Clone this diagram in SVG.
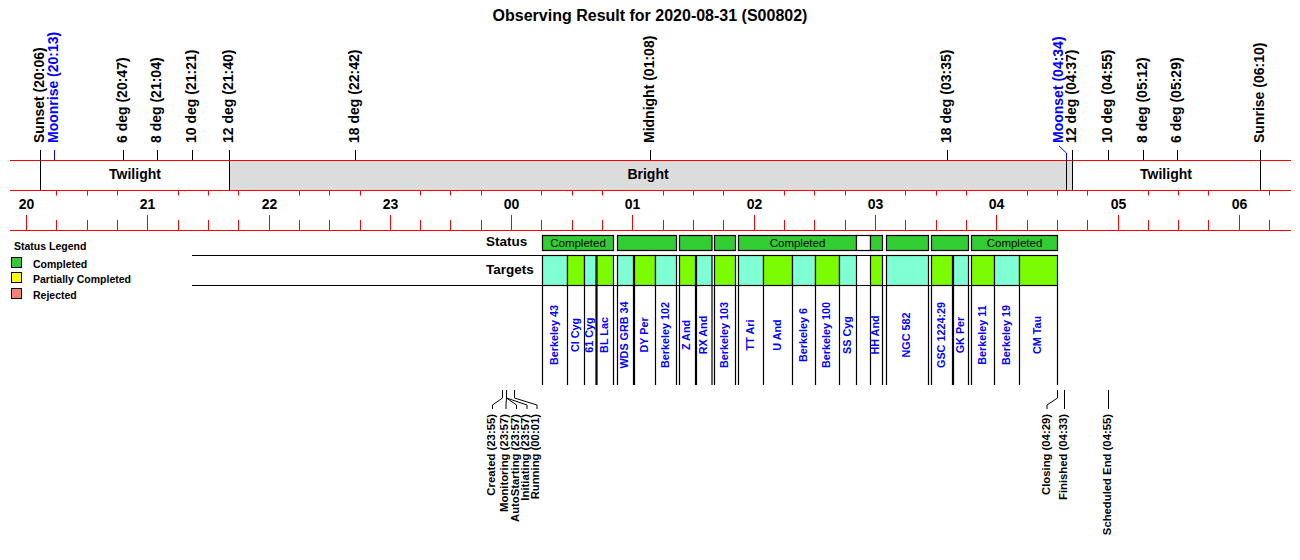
<svg xmlns="http://www.w3.org/2000/svg" width="1300" height="560" viewBox="0 0 1300 560">
<style>
text{font-family:"Liberation Sans",Arial,Helvetica,sans-serif;font-weight:bold;fill:#000}
.red{stroke:#FF0000;stroke-width:1;fill:none}
.blk{stroke:#000;stroke-width:1;fill:none}
.blu{stroke:#0000FF;stroke-width:1;fill:none}
.top{font-size:14px}
.band{font-size:14px}
.hr{font-size:14px}
.tgt{font-size:10.8px;fill:#0000FF}
.ev{font-size:11.3px}
.leg{font-size:10.5px}
.row{font-size:13.5px}
.stl{font-size:11.5px;font-weight:normal}
.g{fill:#32CD32;stroke:#000;stroke-width:1.2}
.w{fill:#FFFFFF;stroke:#000;stroke-width:1.2}
.aq{fill:#7FFFD4;stroke:#000;stroke-width:1.2}
.lg{fill:#7CFC00;stroke:#000;stroke-width:1.2}
</style>

<text x="650" y="20.5" text-anchor="middle" style="font-size:16px">Observing Result for 2020-08-31 (S00802)</text>

<g id="bands">
<rect x="229.5" y="160.5" width="843" height="30" fill="#DCDCDC"/>
<text class="band" x="135" y="179" text-anchor="middle">Twilight</text>
<text class="band" x="648" y="179" text-anchor="middle">Bright</text>
<text class="band" x="1166" y="179" text-anchor="middle">Twilight</text>
</g>

<g id="axis">
<path class="red" d="M10 160.5H1291M10 190.5H1291M10 230.5H1291"/>
<path class="red" d="M56.5 190.5V195.5M87.5 190.5V195.5M117.5 190.5V195.5M178.5 190.5V195.5M208.5 190.5V195.5M238.5 190.5V195.5M299.5 190.5V195.5M329.5 190.5V195.5M360.5 190.5V195.5M420.5 190.5V195.5M450.5 190.5V195.5M481.5 190.5V195.5M541.5 190.5V195.5M572.5 190.5V195.5M602.5 190.5V195.5M663.5 190.5V195.5M693.5 190.5V195.5M723.5 190.5V195.5M784.5 190.5V195.5M814.5 190.5V195.5M845.5 190.5V195.5M905.5 190.5V195.5M936.5 190.5V195.5M966.5 190.5V195.5M1027.5 190.5V195.5M1057.5 190.5V195.5M1087.5 190.5V195.5M1148.5 190.5V195.5M1178.5 190.5V195.5M1208.5 190.5V195.5M1269.5 190.5V195.5"/>
<path class="red" d="M56.5 220V230M87.5 220V230M117.5 220V230M178.5 220V230M208.5 220V230M238.5 220V230M299.5 220V230M329.5 220V230M360.5 220V230M420.5 220V230M450.5 220V230M481.5 220V230M541.5 220V230M572.5 220V230M602.5 220V230M663.5 220V230M693.5 220V230M723.5 220V230M784.5 220V230M814.5 220V230M845.5 220V230M905.5 220V230M936.5 220V230M966.5 220V230M1027.5 220V230M1057.5 220V230M1087.5 220V230M1148.5 220V230M1178.5 220V230M1208.5 220V230M1269.5 220V230"/>
<path class="red" d="M26.5 215V230M147.5 215V230M269.5 215V230M390.5 215V230M511.5 215V230M632.5 215V230M754.5 215V230M875.5 215V230M996.5 215V230M1118.5 215V230M1239.5 215V230"/>
<text class="hr" x="26.5" y="209" text-anchor="middle">20</text>
<text class="hr" x="147.5" y="209" text-anchor="middle">21</text>
<text class="hr" x="269.5" y="209" text-anchor="middle">22</text>
<text class="hr" x="390.5" y="209" text-anchor="middle">23</text>
<text class="hr" x="511.5" y="209" text-anchor="middle">00</text>
<text class="hr" x="632.5" y="209" text-anchor="middle">01</text>
<text class="hr" x="754.5" y="209" text-anchor="middle">02</text>
<text class="hr" x="875.5" y="209" text-anchor="middle">03</text>
<text class="hr" x="996.5" y="209" text-anchor="middle">04</text>
<text class="hr" x="1118.5" y="209" text-anchor="middle">05</text>
<text class="hr" x="1239.5" y="209" text-anchor="middle">06</text>
</g>

<g id="sky-events">
<path class="blk" d="M40.5 150V190.5M229.5 150V190.5M1072.5 150V190.5M1260.5 150V190.5M123.5 150V160M157.5 150V160M192.5 150V160M355.5 150V160M650.5 150V160M947.5 150V160M1108.5 150V160M1143.5 150V160M1177.5 150V160M1066.5 160V190.5"/>
<path class="blu" d="M54.5 150V160M1059 146L1066.5 153V160.5"/>
<text class="top" transform="translate(44,143) rotate(-90)">Sunset (20:06)</text>
<text class="top" transform="translate(58,143) rotate(-90)" style="fill:#0000FF">Moonrise (20:13)</text>
<text class="top" transform="translate(127,143) rotate(-90)">6 deg (20:47)</text>
<text class="top" transform="translate(161,143) rotate(-90)">8 deg (21:04)</text>
<text class="top" transform="translate(196,143) rotate(-90)">10 deg (21:21)</text>
<text class="top" transform="translate(233,143) rotate(-90)">12 deg (21:40)</text>
<text class="top" transform="translate(359,143) rotate(-90)">18 deg (22:42)</text>
<text class="top" transform="translate(654,143) rotate(-90)">Midnight (01:08)</text>
<text class="top" transform="translate(951,143) rotate(-90)">18 deg (03:35)</text>
<text class="top" transform="translate(1063,143) rotate(-90)" style="fill:#0000FF">Moonset (04:34)</text>
<text class="top" transform="translate(1076,143) rotate(-90)">12 deg (04:37)</text>
<text class="top" transform="translate(1112,143) rotate(-90)">10 deg (04:55)</text>
<text class="top" transform="translate(1147,143) rotate(-90)">8 deg (05:12)</text>
<text class="top" transform="translate(1181,143) rotate(-90)">6 deg (05:29)</text>
<text class="top" transform="translate(1264,143) rotate(-90)">Sunrise (06:10)</text>
</g>

<g id="legend">
<text class="leg" x="14" y="250">Status Legend</text>
<rect x="11.5" y="257.5" width="10" height="10" fill="#32CD32" stroke="#000"/>
<rect x="11.5" y="272.5" width="10" height="10" fill="#FFFF00" stroke="#000"/>
<rect x="11.5" y="288.5" width="10" height="10" fill="#FA8072" stroke="#000"/>
<text class="leg" x="33" y="268">Completed</text>
<text class="leg" x="33" y="283">Partially Completed</text>
<text class="leg" x="33" y="298.5">Rejected</text>
</g>

<g id="status-row">
<text class="row" x="486" y="246">Status</text>
<rect class="g" x="542.5" y="235.5" width="71" height="15"/>
<rect class="g" x="617.5" y="235.5" width="59" height="15"/>
<rect class="g" x="679.5" y="235.5" width="32.5" height="15"/>
<rect class="g" x="714.5" y="235.5" width="21" height="15"/>
<rect class="g" x="738.5" y="235.5" width="118" height="15"/>
<rect class="w" x="856.5" y="235.5" width="14" height="15"/>
<rect class="g" x="870.5" y="235.5" width="12" height="15"/>
<rect class="g" x="886.5" y="235.5" width="42" height="15"/>
<rect class="g" x="931.5" y="235.5" width="37" height="15"/>
<rect class="g" x="971.5" y="235.5" width="86" height="15"/>
<text class="stl" x="578" y="246.5" text-anchor="middle">Completed</text>
<text class="stl" x="797.5" y="246.5" text-anchor="middle">Completed</text>
<text class="stl" x="1014.5" y="246.5" text-anchor="middle">Completed</text>
</g>

<g id="targets-row">
<text class="row" x="486" y="274">Targets</text>
<rect class="aq" x="542.5" y="255.5" width="25" height="30"/>
<rect class="lg" x="567.5" y="255.5" width="17" height="30"/>
<rect class="aq" x="584.5" y="255.5" width="11.5" height="30"/>
<rect class="lg" x="597" y="255.5" width="16.5" height="30"/>
<rect class="aq" x="617.5" y="255.5" width="16" height="30"/>
<rect class="lg" x="634.5" y="255.5" width="21" height="30"/>
<rect class="aq" x="655.5" y="255.5" width="21" height="30"/>
<rect class="lg" x="679.5" y="255.5" width="16" height="30"/>
<rect class="aq" x="696.5" y="255.5" width="15.5" height="30"/>
<rect class="lg" x="714.5" y="255.5" width="21" height="30"/>
<rect class="aq" x="738.5" y="255.5" width="25" height="30"/>
<rect class="lg" x="763.5" y="255.5" width="29" height="30"/>
<rect class="aq" x="792.5" y="255.5" width="23" height="30"/>
<rect class="lg" x="815.5" y="255.5" width="24" height="30"/>
<rect class="aq" x="839.5" y="255.5" width="17" height="30"/>
<rect class="lg" x="870.5" y="255.5" width="12" height="30"/>
<rect class="aq" x="886.5" y="255.5" width="42" height="30"/>
<rect class="lg" x="931.5" y="255.5" width="21" height="30"/>
<rect class="aq" x="953.5" y="255.5" width="15" height="30"/>
<rect class="lg" x="971.5" y="255.5" width="23" height="30"/>
<rect class="aq" x="994.5" y="255.5" width="25" height="30"/>
<rect class="lg" x="1019.5" y="255.5" width="38" height="30"/>
<path class="blk" style="stroke-width:1.2" d="M192 255.5H1057.5M192 285.5H1057.5"/>
<path class="blk" style="stroke-width:1.2" d="M542.5 285.5V385M567.5 285.5V385M584.5 285.5V385M596 285.5V385M597 285.5V385M613.5 285.5V385M617.5 285.5V385M633.5 285.5V385M634.5 285.5V385M655.5 285.5V385M676.5 285.5V385M679.5 285.5V385M695.5 285.5V385M696.5 285.5V385M712 285.5V385M714.5 285.5V385M735.5 285.5V385M738.5 285.5V385M763.5 285.5V385M792.5 285.5V385M815.5 285.5V385M839.5 285.5V385M856.5 285.5V385M870.5 285.5V385M882.5 285.5V385M886.5 285.5V385M928.5 285.5V385M931.5 285.5V385M952.5 285.5V385M953.5 285.5V385M968.5 285.5V385M971.5 285.5V385M994.5 285.5V385M1019.5 285.5V385M1057.5 285.5V385"/>
<text class="tgt" transform="translate(557.5,335) rotate(-90)" text-anchor="middle">Berkeley 43</text>
<text class="tgt" transform="translate(578.5,335) rotate(-90)" text-anchor="middle">CI Cyg</text>
<text class="tgt" transform="translate(592.7,335) rotate(-90)" text-anchor="middle">61 Cyg</text>
<text class="tgt" transform="translate(607.7,335) rotate(-90)" text-anchor="middle">BL Lac</text>
<text class="tgt" transform="translate(628,335) rotate(-90)" text-anchor="middle">WDS GRB 34</text>
<text class="tgt" transform="translate(647.5,335) rotate(-90)" text-anchor="middle">DY Per</text>
<text class="tgt" transform="translate(668.5,335) rotate(-90)" text-anchor="middle">Berkeley 102</text>
<text class="tgt" transform="translate(690,335) rotate(-90)" text-anchor="middle">Z And</text>
<text class="tgt" transform="translate(706.7,335) rotate(-90)" text-anchor="middle">RX And</text>
<text class="tgt" transform="translate(727.5,335) rotate(-90)" text-anchor="middle">Berkeley 103</text>
<text class="tgt" transform="translate(753.5,335) rotate(-90)" text-anchor="middle">TT Ari</text>
<text class="tgt" transform="translate(780.5,335) rotate(-90)" text-anchor="middle">U And</text>
<text class="tgt" transform="translate(806.5,335) rotate(-90)" text-anchor="middle">Berkeley 6</text>
<text class="tgt" transform="translate(830,335) rotate(-90)" text-anchor="middle">Berkeley 100</text>
<text class="tgt" transform="translate(850.5,335) rotate(-90)" text-anchor="middle">SS Cyg</text>
<text class="tgt" transform="translate(879,335) rotate(-90)" text-anchor="middle">HH And</text>
<text class="tgt" transform="translate(910,335) rotate(-90)" text-anchor="middle">NGC 582</text>
<text class="tgt" transform="translate(944.5,335) rotate(-90)" text-anchor="middle">GSC 1224:29</text>
<text class="tgt" transform="translate(963.5,335) rotate(-90)" text-anchor="middle">GK Per</text>
<text class="tgt" transform="translate(985.5,335) rotate(-90)" text-anchor="middle">Berkeley 11</text>
<text class="tgt" transform="translate(1009.5,335) rotate(-90)" text-anchor="middle">Berkeley 19</text>
<text class="tgt" transform="translate(1041,335) rotate(-90)" text-anchor="middle">CM Tau</text>
</g>

<g id="run-events">
<path class="blk" d="M502.5 390V398L492.5 405V409M506.5 390V398L506 405V409M506.5 398L516.5 405V409M506.5 398L527 405V409M514.5 390V398L537 405V409M1057.5 390V398L1047 405V409M1064.5 390V409M1108.5 390V409"/>
<text class="ev" transform="translate(494.5,414) rotate(-90)" text-anchor="end">Created (23:55)</text>
<text class="ev" transform="translate(508,414) rotate(-90)" text-anchor="end">Monitoring (23:57)</text>
<text class="ev" transform="translate(518.5,414) rotate(-90)" text-anchor="end">AutoStarting (23:57)</text>
<text class="ev" transform="translate(529,414) rotate(-90)" text-anchor="end">Initiating (23:57)</text>
<text class="ev" transform="translate(539,414) rotate(-90)" text-anchor="end">Running (00:01)</text>
<text class="ev" transform="translate(1049.5,414) rotate(-90)" text-anchor="end">Closing (04:29)</text>
<text class="ev" transform="translate(1066.5,414) rotate(-90)" text-anchor="end">Finished (04:33)</text>
<text class="ev" transform="translate(1110.5,414) rotate(-90)" text-anchor="end">Scheduled End (04:55)</text>
</g>
</svg>
